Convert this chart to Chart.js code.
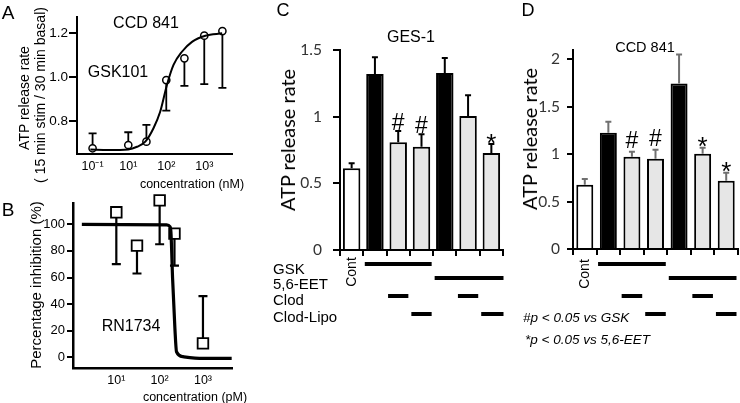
<!DOCTYPE html>
<html><head><meta charset="utf-8">
<script src="https://cdn.jsdelivr.net/npm/chart.js@4.4.1/dist/chart.umd.min.js"></script>
<style>
html,body{margin:0;padding:0;background:#fff;}
#wrap{position:relative;width:740px;height:403px;overflow:hidden;background:#fff;}
canvas{position:absolute;left:0;top:0;}
.t{position:absolute;white-space:nowrap;font-family:"Liberation Sans",Arial,sans-serif;color:#000;line-height:1;transform:translate(-50%,-50%);}
.r{transform:translate(-50%,-50%) rotate(-90deg);}
.l{transform:translateY(-50%);}
.cal{font-family:Lato,"Open Sans",sans-serif;}
</style></head>
<body><div id="wrap">
<canvas id="cA" width="740" height="403"></canvas>
<canvas id="cB" width="740" height="403"></canvas>
<canvas id="cC" width="740" height="403"></canvas>
<canvas id="cD" width="740" height="403"></canvas>

<div class="t" style="left:8px;top:12px;font-size:19px">A</div>
<div class="t" style="left:8px;top:209px;font-size:19px">B</div>
<div class="t" style="left:283px;top:10px;font-size:18px">C</div>
<div class="t" style="left:528px;top:10px;font-size:18px">D</div>

<div class="t" style="left:146px;top:23px;font-size:16px">CCD 841</div>
<div class="t" style="left:118px;top:72px;font-size:16px">GSK101</div>
<div class="t r" style="left:24px;top:98px;font-size:14px">ATP release rate</div>
<div class="t r" style="left:40px;top:95px;font-size:14px">( 15 min stim / 30 min basal)</div>
<div class="t" style="left:192px;top:184px;font-size:12.5px">concentration (nM)</div>

<div class="t" style="left:131px;top:326px;font-size:16px">RN1734</div>
<div class="t r" style="left:35px;top:285px;font-size:15px">Percentage inhibition (%)</div>
<div class="t" style="left:195px;top:397px;font-size:12.5px">concentration (pM)</div>

<div class="t" style="left:411px;top:37px;font-size:16px">GES-1</div>
<div class="t" style="left:645px;top:47px;font-size:14.5px">CCD 841</div>
<div class="t r cal" style="left:287px;top:140px;font-size:20px">ATP release rate</div>
<div class="t r cal" style="left:529px;top:139px;font-size:20px">ATP release rate</div>

<div class="t r" style="left:351px;top:272px;font-size:14px">Cont</div>
<div class="t r" style="left:584px;top:274px;font-size:14px">Cont</div>
<div id="rowlabels"></div>

<div class="t l" style="left:523px;top:318px;font-size:13.5px;font-style:italic">#p &lt; 0.05 vs GSK</div>
<div class="t l" style="left:525px;top:340px;font-size:13.5px;font-style:italic">*p &lt; 0.05 vs 5,6-EET</div>
</div>
<script>
// ---------- DATA ----------
// Panel A : GSK101 dose response (CCD 841)
const concA   = [0.1, 10, 30, 100, 300, 1000, 3000];
const rateA   = [0.676, 0.691, 0.706, 0.986, 1.085, 1.188, 1.209];
const errEndA = [0.744, 0.749, 0.782, 0.847, 0.960, 0.968, 0.951];
const fitConcA = [0.075, 0.78, 10, 17, 28, 46, 69, 104, 155, 258, 475, 1070, 2960];
const fitRateA = [0.670, 0.668, 0.671, 0.683, 0.706, 0.767, 0.842, 0.964, 1.055, 1.115, 1.160, 1.188, 1.199];
const xTickValsA = [0.1, 10, 100, 1000];
const xTickLabelsA = ['10\u207B\u00B9', '10\u00B9', '10\u00B2', '10\u00B3'];
const yTickValsA = [0.8, 1.0, 1.2];

// Panel B : RN1734 inhibition
const concB   = [10, 30, 100, 220, 1000];
const inhibB  = [109, 84, 118, 93, 10.5];
const errEndB = [70, 63, 85, 69, 46];
const fitConcB  = [1.6, 145, 173, 182, 199, 225, 245, 347, 1000, 4600];
const fitInhibB = [100, 99.5, 98.2, 94.4, 59.4, 21.8, 4.2, 0.5, -0.75, -0.75];
const xTickValsB = [10, 100, 1000];
const xTickLabelsB = ['10\u00B9', '10\u00B2', '10\u00B3'];
const yTickValsB = [0, 20, 40, 60, 80, 100];

// Panels C and D : ATP release rate
const groups  = ['Cont', 'GSK', 'GSK+Clod', 'GSK+Clod-Lipo', '5,6-EET', '5,6-EET+Clod', '5,6-EET+Clod-Lipo'];
const valsC   = [0.613, 1.320, 0.808, 0.775, 1.327, 1.005, 0.727];
const errEndC = [0.650, 1.445, 0.893, 0.868, 1.440, 1.160, 0.795];
const marksC  = ['', '', '#', '#', '', '', '*'];
const valsD   = [0.677, 1.228, 0.974, 0.952, 1.746, 1.005, 0.720];
const errEndD = [0.740, 1.344, 1.026, 1.048, 2.053, 1.069, 0.804];
const marksD  = ['', '', '#', '#', '', '*', '*'];
const yTickValsC = [0, 0.5, 1, 1.5];
const yTickValsD = [0, 0.5, 1, 1.5, 2];
// treatment matrix
const rowLabels = ['GSK', '5,6-EET', 'Clod', 'Clod-Lipo'];
const treatGSK  = [0, 1, 1, 1, 0, 0, 0];
const treatEET  = [0, 0, 0, 0, 1, 1, 1];
const treatClod = [0, 0, 1, 0, 0, 1, 0];
const treatLipo = [0, 0, 0, 1, 0, 0, 1];

// ---------- STYLE ----------
const ARIAL = '"Liberation Sans", Arial, sans-serif';
const CAL = 'Lato, "Open Sans", sans-serif';
const WHITE = '#ffffff', BLACK = '#000000', GREY = '#e6e6e6';
const barFills = [WHITE, BLACK, GREY, GREY, BLACK, GREY, GREY];
const rowY = [264, 278, 296, 314];

// row labels as HTML text
(function(){
  const host = document.getElementById('rowlabels');
  const ys = [268, 283, 299, 316];
  rowLabels.forEach((s, i) => {
    const d = document.createElement('div');
    d.className = 't l'; d.textContent = s;
    d.style.left = '273px'; d.style.top = ys[i] + 'px'; d.style.fontSize = '15px';
    host.appendChild(d);
  });
})();

// ---------- custom broken log scale (panel A): log axis, compressed below breakLog ----------
class BrokenLogScale extends Chart.LinearScale {
  static id = 'brokenlog';
  static defaults = {};
  _t(v) { const L = Math.log10(v), b = this.options.breakLog, k = this.options.squeeze; return L >= b ? L : b - (b - L) * k; }
  _ti(t) { const b = this.options.breakLog, k = this.options.squeeze; const L = t >= b ? t : b - (b - t) / k; return Math.pow(10, L); }
  configure() {
    super.configure();
    this._startValue = this._t(this.min);
    this._endValue = this._t(this.max);
    this._valueRange = this._endValue - this._startValue;
  }
  getPixelForValue(v) { return this.getPixelForDecimal((this._t(v) - this._startValue) / this._valueRange); }
  getValueForPixel(p) { return this._ti(this._startValue + this.getDecimalForPixel(p) * this._valueRange); }
}
Chart.register(BrokenLogScale);

// ---------- helpers ----------
const fixW = w => s => { s.width = w; };
const fixH = h => s => { s.height = h; };
const setTicks = vals => s => { s.ticks = vals.map(v => ({ value: v })); };
const axisBorder = w => ({ display: true, color: '#000', width: w });

function errPlugin(cfg) {
  const draw = chart => {
    const meta = chart.getDatasetMeta(cfg.dataset);
    const ys = chart.scales.y, ctx = chart.ctx;
    ctx.save();
    ctx.strokeStyle = cfg.color; ctx.lineWidth = cfg.width; ctx.lineCap = 'butt';
    meta.data.forEach((el, i) => {
      const end = cfg.ends[i]; if (end == null) return;
      const x = el.x, y0 = el.y, y1 = ys.getPixelForValue(end);
      ctx.beginPath();
      ctx.moveTo(x, y0); ctx.lineTo(x, y1);
      ctx.moveTo(x - cfg.cap / 2, y1); ctx.lineTo(x + cfg.cap / 2, y1);
      ctx.stroke();
    });
    ctx.restore();
  };
  return cfg.before ? { id: 'errbars', beforeDatasetsDraw: draw } : { id: 'errbars', afterDatasetsDraw: draw };
}

function marksPlugin(cfg) {
  return { id: 'marks', afterDatasetsDraw(chart) {
    const meta = chart.getDatasetMeta(0), ys = chart.scales.y, ctx = chart.ctx;
    ctx.save(); ctx.fillStyle = '#000'; ctx.textAlign = 'center'; ctx.textBaseline = 'alphabetic';
    meta.data.forEach((el, i) => {
      const m = cfg.marks[i]; if (!m) return;
      ctx.font = cfg.font[m];
      const y = ys.getPixelForValue(cfg.ends[i]) + (cfg.offset[m] || 0);
      ctx.fillText(m, el.x, y);
    });
    ctx.restore();
  } };
}

function treatPlugin(cfg) {
  return { id: 'treat', afterDraw(chart) {
    const xs = chart.scales.x, ctx = chart.ctx;
    const half = (xs.getPixelForValue(1) - xs.getPixelForValue(0)) / 2;
    ctx.save(); ctx.fillStyle = '#000';
    cfg.rows.forEach((row, r) => {
      let i = 0;
      while (i < row.length) {
        if (!row[i]) { i++; continue; }
        let j = i; while (j + 1 < row.length && row[j + 1]) j++;
        const x0 = xs.getPixelForValue(i) - half + cfg.inset;
        const x1 = xs.getPixelForValue(j) + half - cfg.inset + (j === row.length - 1 ? cfg.endExtra : 0);
        ctx.fillRect(x0, cfg.y[r] - cfg.thick / 2, x1 - x0, cfg.thick);
        i = j + 1;
      }
    });
    ctx.restore();
  } };
}

const base = { responsive: false, animation: false, events: [],
  plugins: { legend: { display: false }, tooltip: { enabled: false } } };

// ---------- Panel A ----------
new Chart(document.getElementById('cA'), {
  type: 'scatter',
  data: { datasets: [
    { data: fitConcA.map((c, i) => ({ x: c, y: fitRateA[i] })), showLine: true, pointRadius: 0,
      borderColor: '#000', borderWidth: 2, cubicInterpolationMode: 'monotone', clip: false },
    { data: concA.map((c, i) => ({ x: c, y: rateA[i] })), showLine: false, pointRadius: 3.6,
      pointBackgroundColor: '#fff', pointBorderColor: '#000', pointBorderWidth: 1.5, clip: false }
  ] },
  options: { ...base,
    layout: { padding: { left: 77 - 40, right: 740 - 232, top: 17, bottom: 403 - 154 - 30 } },
    scales: {
      x: { type: 'brokenlog', min: 0.0134, max: 5370, breakLog: 1, squeeze: 0.47, bounds: 'data',
        afterBuildTicks: setTicks(xTickValsA), afterFit: fixH(30),
        grid: { display: false, drawTicks: false }, border: axisBorder(2),
        ticks: { autoSkip: false, maxRotation: 0, padding: 5, color: '#000', font: { family: ARIAL, size: 12.5 },
          callback: (v, i) => xTickLabelsA[i] } },
      y: { min: 0.65, max: 1.273, afterBuildTicks: setTicks(yTickValsA), afterFit: fixW(40),
        grid: { display: true, drawOnChartArea: false, tickLength: 8, color: '#000', lineWidth: 2 }, border: axisBorder(2),
        ticks: { padding: 1, color: '#000', font: { family: ARIAL, size: 13.5 }, callback: v => v.toFixed(1) } }
    } },
  plugins: [errPlugin({ dataset: 1, ends: errEndA, color: '#000', width: 1.8, cap: 8, before: true })]
});

// ---------- Panel B ----------
new Chart(document.getElementById('cB'), {
  type: 'scatter',
  data: { datasets: [
    { data: fitConcB.map((c, i) => ({ x: c, y: fitInhibB[i] })), showLine: true, pointRadius: 0,
      borderColor: '#000', borderWidth: 3.2, cubicInterpolationMode: 'monotone', clip: false },
    { data: concB.map((c, i) => ({ x: c, y: inhibB[i] })), showLine: false, pointStyle: 'rect', pointRadius: 7.5,
      pointBackgroundColor: '#fff', pointBorderColor: '#000', pointBorderWidth: 1.8, clip: false }
  ] },
  options: { ...base,
    layout: { padding: { left: 73 - 40, right: 740 - 232, top: 203, bottom: 403 - 368 - 30 } },
    scales: {
      x: { type: 'logarithmic', min: 1, max: 4680,
        afterBuildTicks: setTicks(xTickValsB), afterFit: fixH(30),
        grid: { display: false, drawTicks: false }, border: axisBorder(2.5),
        ticks: { autoSkip: false, maxRotation: 0, padding: 5, color: '#000', font: { family: ARIAL, size: 12.5 },
          callback: (v, i) => xTickLabelsB[i] } },
      y: { min: -8, max: 116, afterBuildTicks: setTicks(yTickValsB), afterFit: fixW(40),
        grid: { display: true, drawOnChartArea: false, tickLength: 6, color: '#000', lineWidth: 2 }, border: axisBorder(2.5),
        ticks: { padding: 2, color: '#000', font: { family: ARIAL, size: 13 }, callback: v => String(v) } }
    } },
  plugins: [errPlugin({ dataset: 1, ends: errEndB, color: '#000', width: 2.2, cap: 9, before: true })]
});

// ---------- Panels C, D ----------
function barPanel(id, vals, ends, marks, area, yMax, yTicks, tick, errColor, barPct, markOffset) {
  new Chart(document.getElementById(id), {
    type: 'bar',
    data: { labels: groups, datasets: [{ data: vals, backgroundColor: barFills, borderColor: '#000',
      borderWidth: 2, barPercentage: barPct, categoryPercentage: 1 }] },
    options: { ...base,
      layout: { padding: { left: area.left - 45, right: 740 - area.right, top: area.top, bottom: 403 - area.bottom - 30 } },
      scales: {
        x: { type: 'category', offset: true, afterFit: fixH(30),
          grid: { display: true, drawOnChartArea: false, offset: true, tickLength: 6, color: '#000', lineWidth: 2 },
          border: axisBorder(2), ticks: { display: false } },
        y: { min: 0, max: yMax, afterBuildTicks: setTicks(yTicks), afterFit: fixW(45),
          grid: { display: true, drawOnChartArea: false, tickLength: tick.len, color: '#000', lineWidth: 2 }, border: axisBorder(2),
          ticks: { padding: tick.pad, color: '#333', font: { family: CAL, size: tick.size }, callback: v => String(v) } }
      } },
    plugins: [
      errPlugin({ dataset: 0, ends: ends, color: errColor, width: 2, cap: 6 }),
      marksPlugin({ marks: marks, ends: ends, font: { '#': '23px ' + ARIAL, '*': '26px ' + ARIAL }, offset: markOffset }),
      treatPlugin({ rows: [treatGSK, treatEET, treatClod, treatLipo], y: rowY, thick: 4, inset: 1.5, endExtra: area.endExtra })
    ]
  });
}
barPanel('cC', valsC, errEndC, marksC, { left: 340, right: 503, top: 50, bottom: 250, endExtra: 2 }, 1.5, yTickValsC,
  { size: 15.5, len: 7, pad: 11 }, '#000', 0.75, { '#': -1, '*': 8 });
barPanel('cD', valsD, errEndD, marksD, { left: 573, right: 738, top: 50, bottom: 249, endExtra: 0 }, 2.1, yTickValsD,
  { size: 15.5, len: 6, pad: 7 }, '#707070', 0.72, { '#': -4, '*': 7 });
</script>
</body></html>
